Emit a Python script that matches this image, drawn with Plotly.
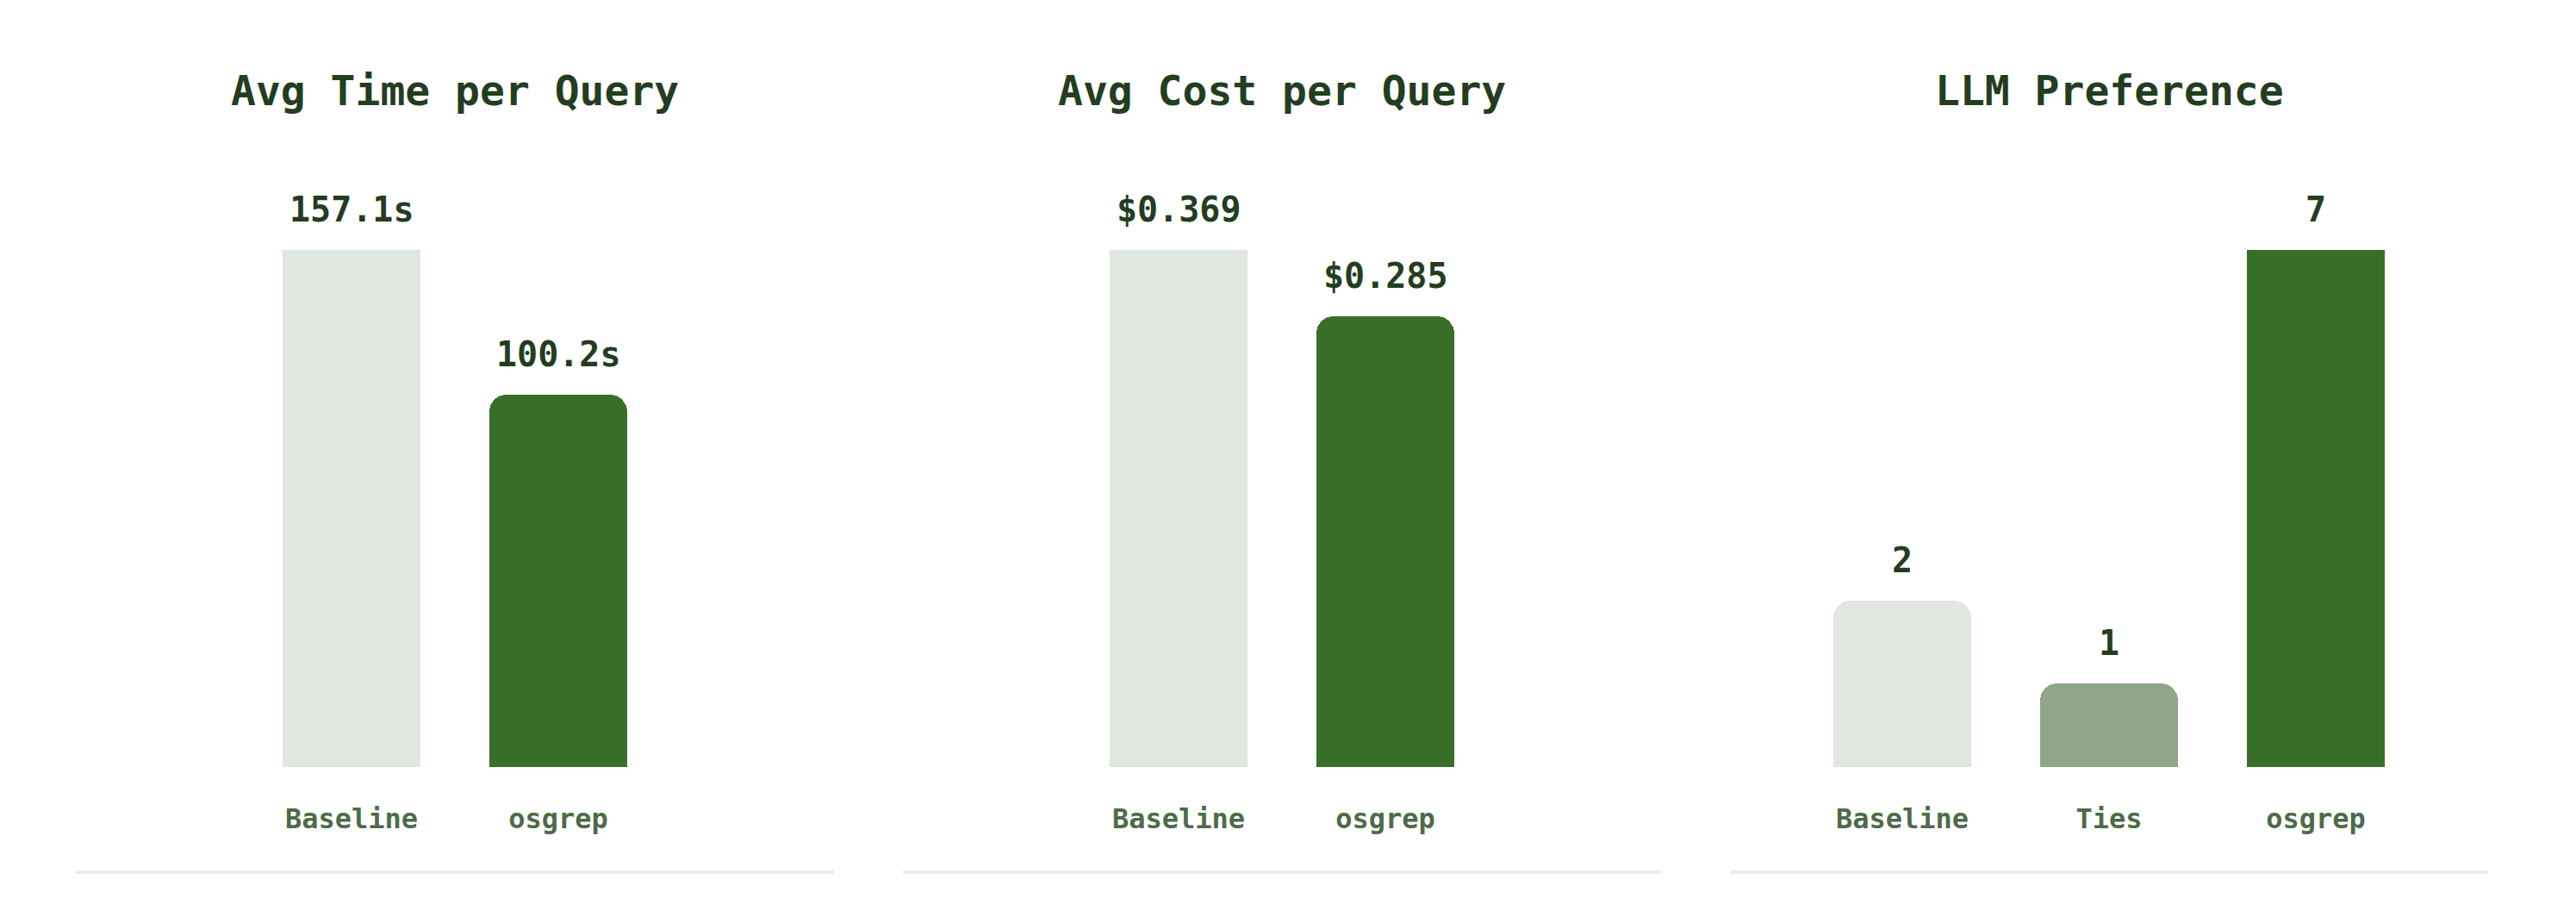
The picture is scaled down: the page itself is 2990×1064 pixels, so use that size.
import plotly.graph_objects as go
from plotly.subplots import make_subplots

# ---- data ----
titles = ["Avg Time per Query", "Avg Cost per Query", "LLM Preference"]

time_categories = ["Baseline", "osgrep"]
time_values = [157.1, 100.2]
time_labels = ["157.1s", "100.2s"]

cost_categories = ["Baseline", "osgrep"]
cost_values = [0.369, 0.285]
cost_labels = ["$0.369", "$0.285"]

pref_categories = ["Baseline", "Ties", "osgrep"]
pref_values = [2, 1, 7]
pref_labels = ["2", "1", "7"]

# ---- style ----
W, H = 2990, 1064
OFF = 8  # page body margin
FONT = "DejaVu Sans Mono"
DARK = "#233d1f"
TICK = "#4d6b48"
COL_BASE = "#e0e6e0"
COL_TIES = "#8fa68a"
COL_OS = "#386f28"
LINE = "#e7eee6"

color_map = {"Baseline": COL_BASE, "Ties": COL_TIES, "osgrep": COL_OS}

panels = [
    (time_categories, time_values, time_labels),
    (cost_categories, cost_values, cost_labels),
    (pref_categories, pref_values, pref_labels),
]


def px_x(v):
    return (v - OFF) / W


def px_y(v):
    return (H - (v - OFF)) / H


panel_px = [(88, 968), (1048, 1928), (2008, 2888)]
plot_bottom_px = 890
plot_top_px = 290
spacing_px = 240
bar_px = 160
cap = 1.128  # the tallest bar is capped in the original layout

fig = make_subplots(rows=1, cols=3)

annotations = []
shapes = []
for i, (cats, vals, labs) in enumerate(panels):
    n = len(cats)
    xs = list(range(n))
    ymax = max(vals) / cap
    fig.add_trace(
        go.Bar(
            x=xs,
            y=vals,
            width=bar_px / spacing_px,
            marker=dict(color=[color_map[c] for c in cats], cornerradius=20, line=dict(width=0)),
            hoverinfo="skip",
            showlegend=False,
        ),
        row=1, col=i + 1,
    )
    x0, x1 = panel_px[i]
    half = (x1 - x0) / 2 / spacing_px
    c = (n - 1) / 2
    ax = "xaxis" if i == 0 else f"xaxis{i+1}"
    ay = "yaxis" if i == 0 else f"yaxis{i+1}"
    fig.layout[ax].update(
        domain=[px_x(x0), px_x(x1)],
        range=[c - half, c + half],
        tickmode="array",
        tickvals=xs,
        ticktext=cats,
        ticks="",
        showgrid=False,
        zeroline=False,
        showline=False,
        ticklabelstandoff=38,
        tickfont=dict(family=FONT, size=32, color=TICK, weight=700),
        fixedrange=True,
    )
    fig.layout[ay].update(
        domain=[px_y(plot_bottom_px), px_y(plot_top_px)],
        range=[0, ymax],
        visible=False,
        fixedrange=True,
    )
    xr = "x" if i == 0 else f"x{i+1}"
    yr = "y" if i == 0 else f"y{i+1}"
    for xi, v, lab in zip(xs, vals, labs):
        annotations.append(dict(
            x=xi, y=min(v, ymax), xref=xr, yref=yr,
            text=lab, showarrow=False, yanchor="bottom", xanchor="center",
            yshift=22,
            font=dict(family=FONT, size=40, color=DARK, weight=700),
        ))
    annotations.append(dict(
        x=0.5, y=px_y(105), xref=f"{xr} domain", yref="paper",
        text=titles[i], showarrow=False, xanchor="center", yanchor="middle",
        font=dict(family=FONT, size=48, color=DARK, weight=700),
    ))
    shapes.append(dict(
        type="line", xref=f"{xr} domain", yref="paper",
        x0=0, x1=1, y0=px_y(1012), y1=px_y(1012),
        line=dict(color=LINE, width=4),
    ))

# page scrollbar strip at the right edge
shapes.append(dict(
    type="rect", xref="paper", yref="paper",
    x0=px_x(2985), x1=px_x(2990), y0=px_y(1064), y1=1,
    fillcolor="#e6e6e6", line=dict(width=0), layer="above",
))

fig.update_layout(
    width=W, height=H,
    margin=dict(l=0, r=0, t=0, b=0),
    paper_bgcolor="white",
    plot_bgcolor="white",
    annotations=annotations,
    shapes=shapes,
    bargap=0,
)

fig.write_html("out.html", config={"displayModeBar": False})
